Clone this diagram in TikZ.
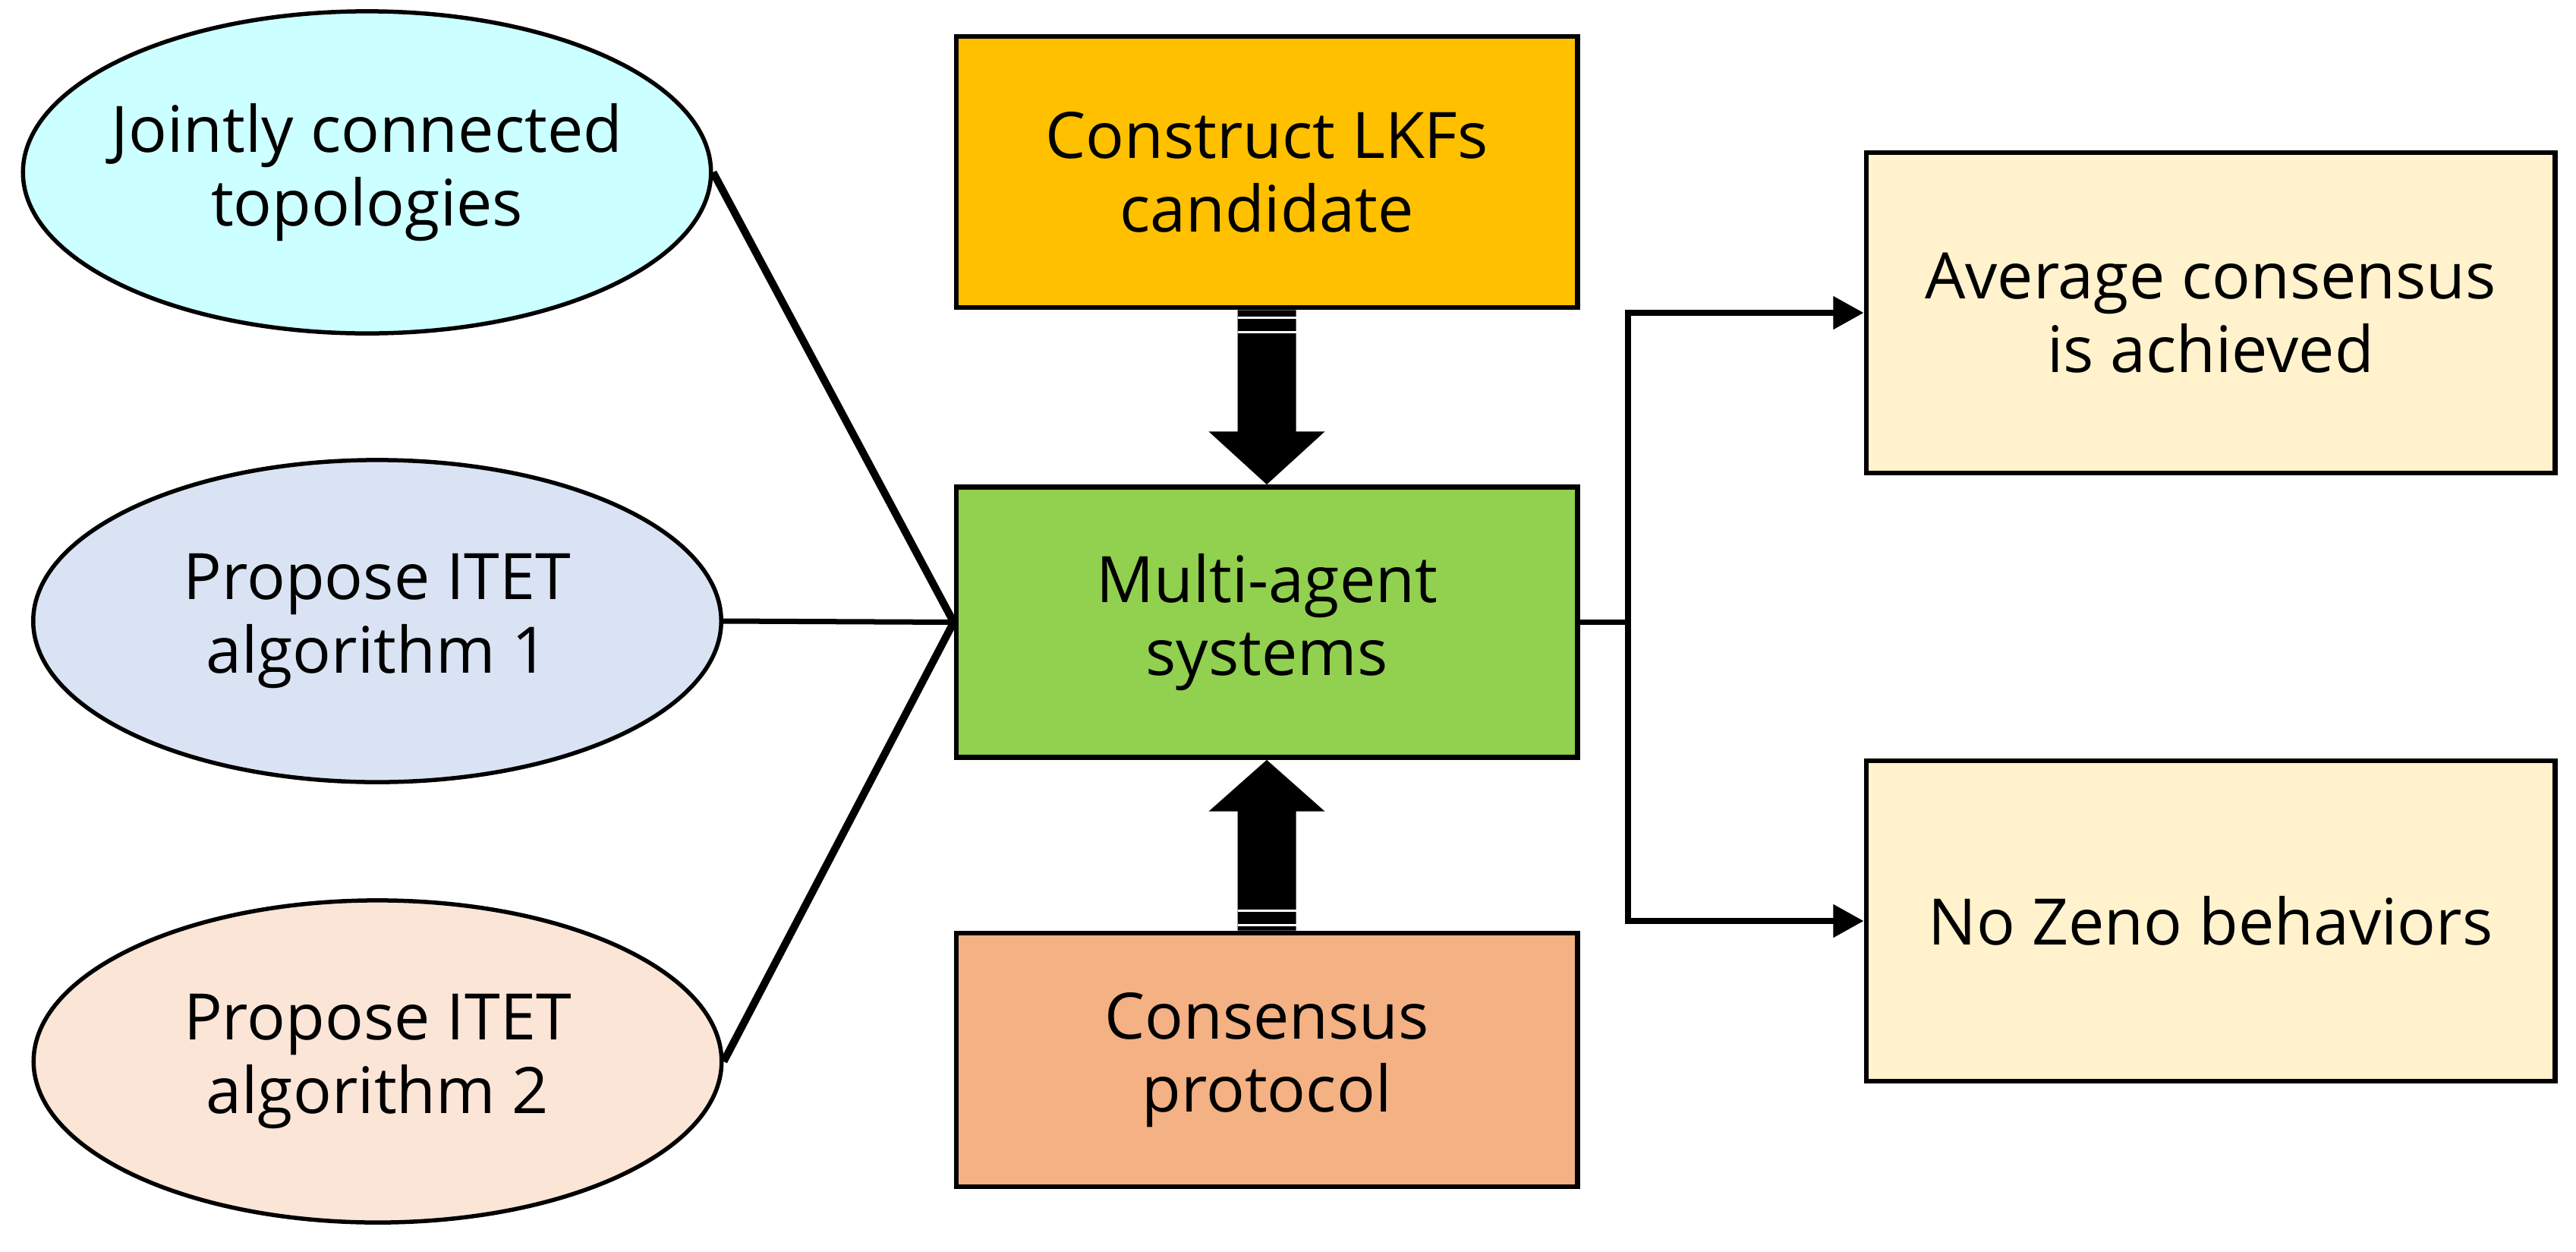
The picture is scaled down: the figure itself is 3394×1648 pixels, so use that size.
\documentclass[tikz,border=0pt]{standalone}
\usepackage{fontspec}
\setmainfont{Open Sans}
\usetikzlibrary{shapes.geometric,arrows.meta,calc}
\definecolor{cyanfill}{HTML}{CCFFFF}
\definecolor{bluefill}{HTML}{DAE3F3}
\definecolor{peachfill}{HTML}{FBE5D6}
\definecolor{orangefill}{HTML}{FFC000}
\definecolor{greenfill}{HTML}{92D050}
\definecolor{salmonfill}{HTML}{F4B183}
\definecolor{creamfill}{HTML}{FFF2CC}
\begin{document}
\begin{tikzpicture}[x=0.01cm,y=-0.01cm,
  txt/.style={font=\fontsize{24}{27.5}\selectfont, align=center, text=black, inner sep=0pt},
  oval/.style={ellipse, draw, line width=0.055cm, minimum width=9.06cm, minimum height=4.24cm, inner sep=0pt},
  boxnode/.style={rectangle, draw, line width=0.065cm, inner sep=0pt, txt},
  link/.style={line width=0.07cm},
  thicklink/.style={line width=0.1cm},
  arr/.style={line width=0.075cm, -{Triangle[length=0.4cm,width=0.42cm]}},
  blockarrow/.style={fill=black},
  stripe/.style={white, line width=0.03cm}]
\useasboundingbox (0,0) rectangle (3394,1648);

% ellipses
\node[oval, fill=cyanfill] (e1) at (483.5,227) {};
\node[txt] (e1t) at (e1.center) {Jointly connected\\topologies};
\node[oval, fill=bluefill] (e2) at (497,818) {};
\node[txt] (e2t) at (e2.center) {Propose ITET\\algorithm 1};
\node[oval, fill=peachfill] (e3) at (497.5,1398) {};
\node[txt] (e3t) at (e3.center) {Propose ITET\\algorithm 2};

% central boxes
\node[boxnode, fill=orangefill, minimum width=8.18cm, minimum height=3.57cm] (o) at (1669,226.5) {Construct LKFs\\candidate};
\node[boxnode, fill=greenfill, minimum width=8.18cm, minimum height=3.56cm] (g) at (1669,819.5) {Multi-agent\\systems};
\node[boxnode, fill=salmonfill, minimum width=8.18cm, minimum height=3.34cm] (s) at (1669,1396) {Consensus\\protocol};

% right boxes
\node[boxnode, fill=creamfill, minimum width=9.07cm, minimum height=4.22cm] (a1) at (2912.5,412) {Average consensus\\is achieved};
\node[boxnode, fill=creamfill, minimum width=9.07cm, minimum height=4.22cm] (a2) at (2912.5,1213) {No Zeno behaviors};

% connectors from ellipses
\draw[thicklink] (e1.east) -- (g.west);
\draw[link] (e2.east) -- (g.west);
\draw[thicklink] (e3.east) -- (g.west);

% branch to results
\coordinate (br) at (2145,819.5);
\draw[link] (g.east) -- (br);
\draw[arr] (br) |- (a1.west);
\draw[arr] (br) |- (a2.west);

% block arrow down
\fill[blockarrow] ($(o.south)+(-38.5,0)$) -- ($(o.south)+(-38.5,160)$) -- ($(o.south)+(-76.5,160)$) -- (g.north)
  -- ($(o.south)+(76.5,160)$) -- ($(o.south)+(38.5,160)$) -- ($(o.south)+(38.5,0)$) -- cycle;
\draw[stripe] ($(o.south)+(-38.5,10)$) -- ($(o.south)+(38.5,10)$);
\draw[stripe] ($(o.south)+(-38.5,29)$) -- ($(o.south)+(38.5,29)$);

% block arrow up
\fill[blockarrow] ($(s.north)+(-38.5,0)$) -- ($(s.north)+(-38.5,-157)$) -- ($(s.north)+(-76.5,-157)$) -- (g.south)
  -- ($(s.north)+(76.5,-157)$) -- ($(s.north)+(38.5,-157)$) -- ($(s.north)+(38.5,0)$) -- cycle;
\draw[stripe] ($(s.north)+(-38.5,-26)$) -- ($(s.north)+(38.5,-26)$);
\draw[stripe] ($(s.north)+(-38.5,-7)$) -- ($(s.north)+(38.5,-7)$);
\end{tikzpicture}
\end{document}
